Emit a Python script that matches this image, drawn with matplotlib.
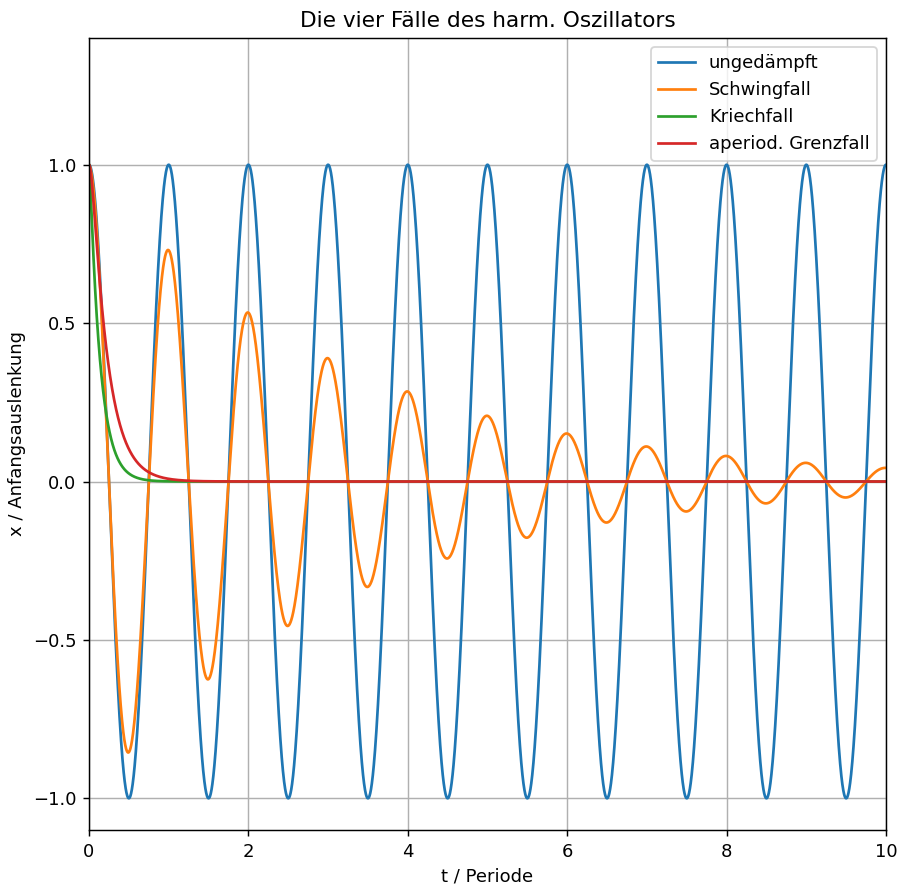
import numpy as np
import matplotlib
matplotlib.use("Agg")
import matplotlib.pyplot as plt

# Parameters (time in periods)
t_range = [0.0, 10.0]
n_samples = 4000
period = 1.0                   # undamped period
decay_per_period = 0.73        # Schwingfall amplitude ratio per period
krich_rates = [7.5, 100.0]     # Kriechfall slow / fast rates (1/period)
grenz_rates = [5.0, 25.0]      # "aperiod. Grenzfall" slow / fast rates (1/period)

labels = ["ungedämpft", "Schwingfall", "Kriechfall", "aperiod. Grenzfall"]
xticks = [0, 2, 4, 6, 8, 10]
yticks = [-1.0, -0.5, 0.0, 0.5, 1.0]


def aperiodic(t, rates):
    s, f = rates
    return (f * np.exp(-s * t) - s * np.exp(-f * t)) / (f - s)


t = np.linspace(t_range[0], t_range[1], n_samples)
w = 2 * np.pi / period
x_und = np.cos(w * t)
delta = -np.log(decay_per_period) / period
x_schw = np.exp(-delta * t) * np.cos(w * t)
x_krich = aperiodic(t, krich_rates)
x_grenz = aperiodic(t, grenz_rates)

DPI = 130
fig = plt.figure(figsize=(901 / DPI, 888 / DPI), dpi=DPI)
ax = fig.add_axes([89 / 901, 1 - 830 / 888, (886 - 89) / 901, (830 - 38) / 888])
for y, lab in zip([x_und, x_schw, x_krich, x_grenz], labels):
    ax.plot(t, y, label=lab, lw=1.5)

ax.set_xlim(*t_range)
ax.set_ylim(-1.1, 1.4)
ax.set_xticks(xticks)
ax.set_yticks(yticks)
ax.grid(True)
ax.set_xlabel("t / Periode")
ax.set_ylabel("x / Anfangsauslenkung")
ax.set_title("Die vier Fälle des harm. Oszillators")
ax.legend(loc="upper right")
fig.savefig("out.png", dpi=DPI)
